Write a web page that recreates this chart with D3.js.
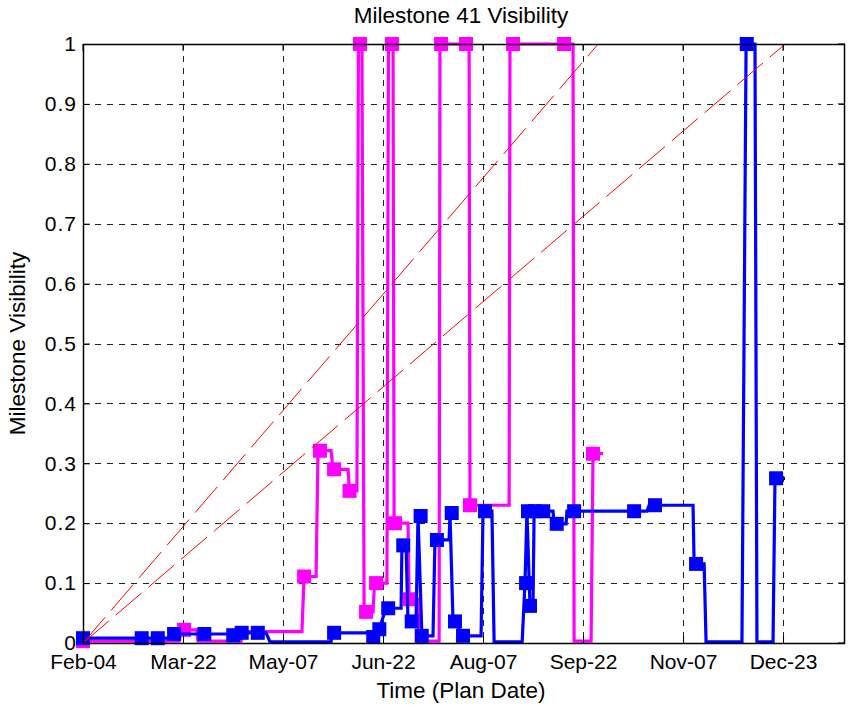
<!DOCTYPE html>
<html><head><meta charset="utf-8">
<script src="https://cdn.jsdelivr.net/npm/d3@7"></script>
<style>
html,body{margin:0;padding:0;background:#fff;}
svg{display:block;font-family:"Liberation Sans",Arial,Helvetica,sans-serif;}
</style></head>
<body><svg id="chart" width="849" height="707"></svg>
<script>
// ---- data (x in days since Feb-04, y = milestone visibility) ----
const xTickDays = [0, 46, 92, 138, 184, 230, 276, 322];
const xTickLabels = ["Feb-04", "Mar-22", "May-07", "Jun-22", "Aug-07", "Sep-22", "Nov-07", "Dec-23"];
const yTicks = [0, 0.1, 0.2, 0.3, 0.4, 0.5, 0.6, 0.7, 0.8, 0.9, 1];
const yTickLabels = ["0", "0.1", "0.2", "0.3", "0.4", "0.5", "0.6", "0.7", "0.8", "0.9", "1"];

const planLineA = [[0, 0], [237, 1]];
const planLineB = [[0, 0], [323, 1]];

const magentaLine = [[0,0.003],[44.2,0.003],[45.1,0.022],[52.4,0.022],[52.9,0.003],[72.7,0.003],[73.6,0.019],[100.7,0.019],[101.7,0.111],[107.2,0.111],[108.1,0.321],[114.1,0.321],[115,0.29],[121.9,0.29],[122.6,0.254],[126,0.254],[126.7,1],[128.3,1],[129.3,0.052],[133.4,0.052],[134.1,0.1],[139.8,0.1],[140.5,1],[142.6,1],[143.1,0.2],[149.5,0.2],[150,0.073],[154.1,0.073],[154.6,0.003],[163.8,0.003],[164.2,1],[177.6,1],[178,0.23],[196,0.23],[196.4,1],[225.4,1],[225.9,0.003],[233.7,0.003],[234.6,0.316],[239.2,0.316]];
const magentaMarkers = [[0,0.003],[46.5,0.022],[101.7,0.111],[109,0.321],[115.5,0.29],[122.6,0.254],[127.4,1],[130.2,0.052],[134.8,0.1],[142.1,1],[143.5,0.2],[150.4,0.073],[164.7,1],[176.2,1],[178,0.23],[197.8,1],[221.3,1],[234.6,0.316]];

const blueLine = [[0,0.008],[40,0.008],[40.5,0.015],[70.8,0.015],[71.3,0.017],[84.2,0.017],[86,0.002],[114.1,0.002],[114.5,0.017],[132,0.017],[133.4,0.01],[136.2,0.023],[139.4,0.058],[146.3,0.058],[146.7,0.163],[148.6,0.163],[149.5,0.036],[153.2,0.036],[154.1,0.212],[155.9,0.012],[161,0.012],[161.9,0.172],[168.4,0.172],[168.8,0.217],[170.2,0.036],[172.5,0.036],[173.4,0.012],[183.1,0.012],[184,0.22],[188.1,0.22],[189.1,0.002],[202,0.002],[203.3,0.1],[204.2,0.22],[205.6,0.062],[207,0.062],[207.5,0.22],[216.2,0.22],[216.7,0.199],[222.2,0.199],[222.6,0.22],[259.4,0.22],[260.4,0.23],[280.6,0.23],[281.1,0.132],[285.7,0.132],[286.6,0.002],[303.1,0.002],[305,1],[309.1,1],[310,0.002],[317.4,0.002],[318.3,0.275],[322.9,0.275]];
const blueMarkers = [[0,0.008],[27,0.008],[34.4,0.008],[41.9,0.015],[55.8,0.015],[69.1,0.013],[73,0.017],[80.4,0.017],[115.5,0.017],[133.5,0.01],[136.3,0.023],[140.4,0.058],[147.3,0.163],[151.2,0.036],[155.3,0.212],[155.8,0.012],[162.8,0.172],[169.6,0.217],[171.1,0.036],[174.8,0.012],[184.9,0.22],[203.8,0.1],[204.7,0.22],[205.6,0.062],[207.9,0.22],[211.7,0.22],[217.9,0.199],[225.9,0.22],[253.5,0.22],[263.1,0.23],[282,0.132],[305.3,1],[318.8,0.275]];

// ---- layout ----
const L = 83, R = 845, T = 44, B = 643;
const svg = d3.select("#chart");
const x = d3.scaleLinear().domain([0, 350.5]).range([L, R]);
const y = d3.scaleLinear().domain([0, 1]).range([B, T]);

// grid
const grid = svg.append("g").attr("stroke", "#222").attr("stroke-width", 1)
  .attr("stroke-dasharray", "6,6").attr("shape-rendering", "crispEdges");
grid.selectAll(".gx").data(xTickDays.slice(1)).join("line")
  .attr("x1", d => Math.round(x(d)) + 0.5).attr("x2", d => Math.round(x(d)) + 0.5)
  .attr("y1", T).attr("y2", B);
grid.selectAll(".gy").data(yTicks.slice(1, -1)).join("line")
  .attr("y1", d => Math.round(y(d)) + 0.5).attr("y2", d => Math.round(y(d)) + 0.5)
  .attr("x1", L).attr("x2", R);

const line = d3.line().x(d => x(d[0])).y(d => y(d[1]));

function drawSeries(pts, marks, color) {
  svg.append("path").datum(pts).attr("d", line)
    .attr("fill", "none").attr("stroke", color).attr("stroke-width", 3.2)
    .attr("stroke-linejoin", "miter");
  const s = 14;
  svg.append("g").selectAll("rect").data(marks).join("rect")
    .attr("x", d => x(d[0]) - s / 2).attr("y", d => y(d[1]) - s / 2)
    .attr("width", s).attr("height", s).attr("fill", color);
}
drawSeries(magentaLine, magentaMarkers, "#ff00ff");
drawSeries(blueLine, blueMarkers, "#0000ff");

// plan-date reference lines
[planLineA, planLineB].forEach(p => {
  svg.append("path").datum(p).attr("d", line).attr("fill", "none")
    .attr("stroke", "#ff0000").attr("stroke-width", 1).attr("stroke-dasharray", "34,9");
});

// axes box
svg.append("rect").attr("x", L + 0.5).attr("y", T + 0.5).attr("width", R - L - 1).attr("height", B - T)
  .attr("fill", "none").attr("stroke", "#000").attr("stroke-width", 1.5);

// axes with ticks inside
const xAxis = d3.axisBottom(x).tickValues(xTickDays).tickFormat((d, i) => xTickLabels[i])
  .tickSizeInner(-7).tickSizeOuter(0).tickPadding(11);
const gx = svg.append("g").attr("transform", `translate(0,${B})`).call(xAxis);
gx.select(".domain").remove();
gx.selectAll("text").attr("font-size", 21).attr("fill", "#000")
  .attr("font-family", '"Liberation Sans",Arial,sans-serif').attr("dy", "0.71em");
gx.selectAll("line").attr("stroke", "#000");

const yAxis = d3.axisLeft(y).tickValues(yTicks).tickFormat((d, i) => yTickLabels[i])
  .tickSizeInner(-7).tickSizeOuter(0).tickPadding(13);
const gy = svg.append("g").attr("transform", `translate(${L},0)`).call(yAxis);
gy.select(".domain").remove();
gy.selectAll("text").attr("font-size", 21).attr("fill", "#000")
  .attr("font-family", '"Liberation Sans",Arial,sans-serif').attr("x", -6).style("letter-spacing", "1px");
gy.selectAll("line").attr("stroke", "#000");

// right and top ticks
svg.append("g").selectAll("line").data(yTicks).join("line")
  .attr("x1", R).attr("x2", R - 7).attr("y1", d => y(d)).attr("y2", d => y(d)).attr("stroke", "#000");
svg.append("g").selectAll("line").data(xTickDays).join("line")
  .attr("y1", T).attr("y2", T + 7).attr("x1", d => x(d)).attr("x2", d => x(d)).attr("stroke", "#000");

// labels
svg.append("text").attr("x", 461).attr("y", 23).attr("text-anchor", "middle")
  .attr("font-size", 22.5).text("Milestone 41 Visibility");
svg.append("text").attr("x", 461).attr("y", 698).attr("text-anchor", "middle")
  .attr("font-size", 22.5).text("Time (Plan Date)");
svg.append("text").attr("transform", `translate(25,${(T + B) / 2}) rotate(-90)`).attr("text-anchor", "middle")
  .attr("font-size", 22.5).text("Milestone Visibility");
</script></body></html>
